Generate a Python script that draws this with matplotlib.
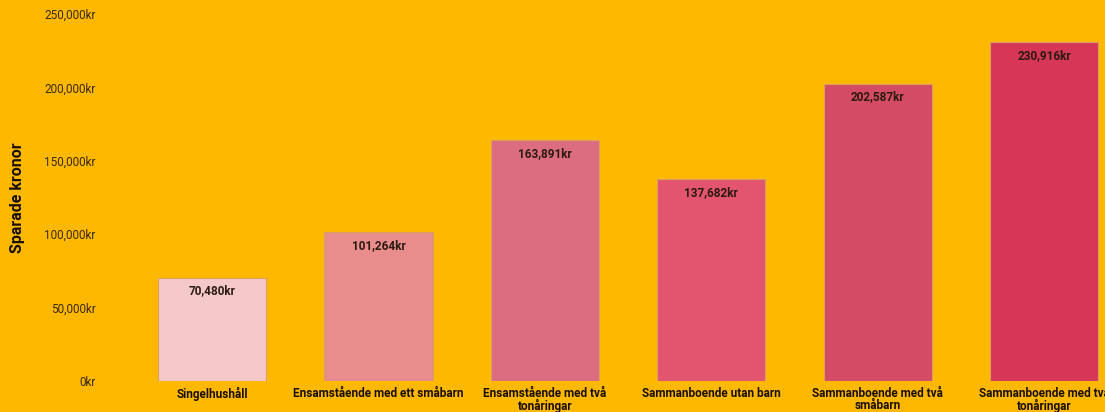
import matplotlib
matplotlib.use("Agg")
import matplotlib.pyplot as plt
from matplotlib.ticker import FuncFormatter

categories = ["Singelhushåll", "Ensamstående med ett småbarn", "Ensamstående med två\ntonåringar",
              "Sammanboende utan barn", "Sammanboende med två\nsmåbarn", "Sammanboende med två\ntonåringar"]
values = [70480, 101264, 163891, 137682, 202587, 230916]
colors = ["#F6C9C9", "#E88C8C", "#DC6D80", "#E3546E", "#D34B64", "#D63756"]

bg = "#FFB800"
plt.rcParams['font.family'] = ['Roboto', 'DejaVu Sans']

fig = plt.figure(figsize=(11.05, 4.12), dpi=100, facecolor=bg)
ax = fig.add_axes([0.1166, 0.0752, 0.9035, 0.8908])
ax.set_facecolor(bg)

x = range(len(categories))
ax.bar(x, values, width=0.65, color=colors, edgecolor="#D9A060", linewidth=0.8)
for xi, v in zip(x, values):
    ax.annotate(f"{v:,}kr", (xi, v), xytext=(0, -5), textcoords="offset points",
                ha="center", va="top", fontsize=8.5, fontweight="bold", color="#2a1a10")

ax.set_xlim(-0.5, 5.5)
ax.set_ylim(0, 250000)
ax.set_yticks(range(0, 250001, 50000))
ax.yaxis.set_major_formatter(FuncFormatter(lambda v, p: f"{int(v):,}kr"))
ax.set_xticks(list(x))
ax.set_xticklabels(categories, fontsize=8.5, fontweight="bold", color="#1a1000", linespacing=0.95)
ax.tick_params(axis="y", length=0, pad=24, labelsize=8.5, labelcolor="#3a2a10")
ax.tick_params(axis="x", length=0, pad=4)
for s in ax.spines.values():
    s.set_visible(False)

ax.set_ylabel("Sparade kronor", fontsize=11.5, fontweight="bold", color="#1a1000", labelpad=14)

fig.savefig("out.png", dpi=100, facecolor=bg)
